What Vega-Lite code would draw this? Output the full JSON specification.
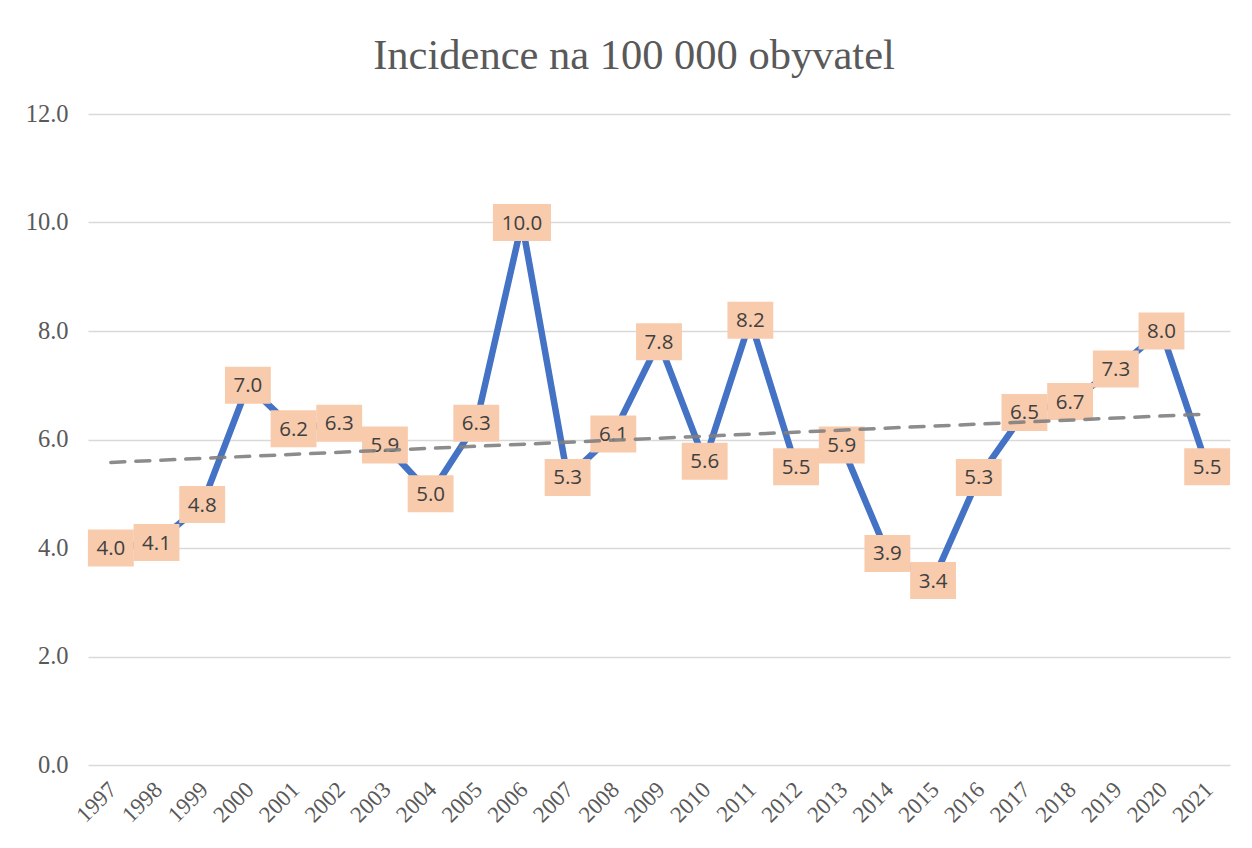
{
  "$schema": "https://vega.github.io/schema/vega-lite/v6.json",
  "autosize": {"type": "none"},
  "padding": {"left": 88, "top": 114, "right": 22, "bottom": 83},
  "width": 1142,
  "height": 651,
  "background": "white",
  "config": {"view": {"stroke": null}},
  "title": {
    "text": "Incidence na 100 000 obyvatel",
    "font": "Liberation Serif",
    "fontSize": 42.5,
    "fontWeight": "normal",
    "color": "#595959",
    "anchor": "middle",
    "dx": -25,
    "offset": 24
  },
  "data": {
    "values": [
      {"year": 1997, "value": 4.0},
      {"year": 1998, "value": 4.1},
      {"year": 1999, "value": 4.8},
      {"year": 2000, "value": 7.0},
      {"year": 2001, "value": 6.2},
      {"year": 2002, "value": 6.3},
      {"year": 2003, "value": 5.9},
      {"year": 2004, "value": 5.0},
      {"year": 2005, "value": 6.3},
      {"year": 2006, "value": 10.0},
      {"year": 2007, "value": 5.3},
      {"year": 2008, "value": 6.1},
      {"year": 2009, "value": 7.8},
      {"year": 2010, "value": 5.6},
      {"year": 2011, "value": 8.2},
      {"year": 2012, "value": 5.5},
      {"year": 2013, "value": 5.9},
      {"year": 2014, "value": 3.9},
      {"year": 2015, "value": 3.4},
      {"year": 2016, "value": 5.3},
      {"year": 2017, "value": 6.5},
      {"year": 2018, "value": 6.7},
      {"year": 2019, "value": 7.3},
      {"year": 2020, "value": 8.0},
      {"year": 2021, "value": 5.5}
    ]
  },
  "encoding": {
    "x": {
      "field": "year",
      "type": "ordinal",
      "scale": {"type": "point", "padding": 0.5},
      "axis": {
        "title": null,
        "labelAngle": -45,
        "labelFont": "Liberation Serif",
        "labelFontSize": 23,
        "labelColor": "#595959",
        "domain": false,
        "ticks": false,
        "labelPadding": 13,
        "labelOffset": -6
      }
    },
    "y": {
      "field": "value",
      "type": "quantitative",
      "scale": {"domain": [0, 12], "nice": false},
      "axis": {
        "title": null,
        "values": [0, 2, 4, 6, 8, 10, 12],
        "format": ".1f",
        "labelFont": "Liberation Serif",
        "labelFontSize": 24.5,
        "labelColor": "#595959",
        "domain": false,
        "ticks": false,
        "labelPadding": 20,
        "gridColor": "#D9D9D9",
        "gridWidth": 1.5
      }
    }
  },
  "layer": [
    {
      "mark": {"type": "line", "color": "#4472C4", "strokeWidth": 6.5, "strokeJoin": "miter", "strokeCap": "butt"}
    },
    {
      "mark": {"type": "point", "filled": true, "fill": "#F8CBAD", "opacity": 1, "strokeWidth": 0, "size": 1369},
      "encoding": {
        "shape": {
          "condition": {"test": "datum.value >= 10", "value": "M-1.57,-1L1.57,-1L1.57,1L-1.57,1Z"},
          "value": "M-1.24,-1L1.24,-1L1.24,1L-1.24,1Z"
        }
      }
    },
    {
      "mark": {"type": "text", "font": "Open Sans", "fontSize": 20.5, "color": "#404040", "baseline": "middle", "align": "center", "dy": 1},
      "encoding": {"text": {"field": "value", "type": "quantitative", "format": ".1f"}}
    },
    {
      "transform": [{"regression": "value", "on": "year"}],
      "mark": {"type": "line", "color": "#808080", "strokeWidth": 3.5, "strokeDash": [14, 11], "strokeCap": "round", "opacity": 0.9}
    }
  ]
}
